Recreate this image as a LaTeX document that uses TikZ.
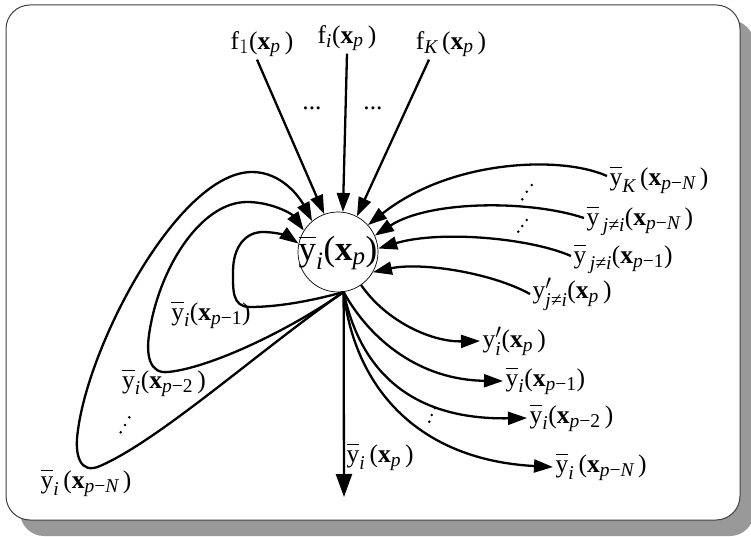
\documentclass[tikz,border=0pt]{standalone}
\usepackage{amsmath}
\usepackage{fontspec}
\setmainfont{Liberation Serif}
\usetikzlibrary{arrows.meta}
\DeclareMathSizes{25.5}{25.5}{19.5}{14}
\DeclareMathSizes{35}{35}{25}{18}
\newcommand{\yb}{\overline{\vphantom{\text{t}}\text{y}}}
\newcommand{\yq}{\text{y}'}
\newcommand{\tit}[1]{\text{\itshape #1}}
\newcommand{\xb}[1]{\text{\bfseries x}_{#1}}
\newcommand{\Lp}{\text{(}}
\newcommand{\Rp}{\text{)}}
\begin{document}
\begin{tikzpicture}[x=1pt,y=-1pt,
  lab/.style={font=\fontsize{25.5}{30}\selectfont, inner sep=2.5pt},
  arr/.style={line width=2.3pt, -{Triangle[length=19pt,width=13pt]}},
  bigarr/.style={line width=2.3pt, -{Triangle[length=23pt,width=16pt]}},
  dotc/.style={fill=black}]
\clip (0,0) rectangle (751,537);
\useasboundingbox (0,0) rectangle (751,537);
% shadow and frame
\fill[gray!80, rounded corners=24pt] (20,20) rectangle (754,536);
\filldraw[fill=white, draw=black!75, line width=1pt, rounded corners=24pt] (6,5) rectangle (740,520);

% central node
\node[circle, draw, line width=0.7pt, fill=white, minimum size=80pt, inner sep=0pt] (c) at (338,252) {};
\node[font=\fontsize{35}{40}\selectfont, inner sep=0pt] (ct) at (338,253) {$\yb_{\tit{i}}\Lp\xb{\tit{p}}\Rp$};

% labels
\node[lab] (f1) at (262,44) {$\text{f}_{1}\Lp\xb{\tit{p}}\,\Rp$};
\node[lab] (fi) at (347,38) {$\text{f}_{\tit{i}}\Lp\xb{\tit{p}}\,\Rp$};
\node[lab] (fK) at (451,44) {$\text{f}_{\tit{K}}\,\Lp\xb{\tit{p}}\,\Rp$};
\node[lab] (h1) at (312,108) {...};
\node[lab] (h2) at (373,108) {...};

\node[lab, anchor=west] (yK) at (607,180) {$\yb_{\tit{K}}\,\Lp\xb{\tit{p}\text{−}\tit{N}}\,\Rp$};
\node[lab, anchor=west] (yjN) at (584,221) {$\yb_{\,\tit{j≠i}}\Lp\xb{\tit{p}\text{−}\tit{N}}\,\Rp$};
\node[lab, anchor=west] (yj1) at (571,259) {$\yb_{\,\tit{j≠i}}\Lp\xb{\tit{p}\text{−1}}\Rp$};
\node[lab, anchor=west] (ypj) at (530,294) {$\yq_{\tit{j≠i}}\Lp\xb{\tit{p}}\,\Rp$};

\node[lab, anchor=west] (ypi) at (480,341) {$\yq_{\tit{i}}\Lp\xb{\tit{p}}\,\Rp$};
\node[lab, anchor=west] (yo1) at (503,381) {$\yb_{\tit{i}}\Lp\xb{\tit{p}\text{−1}}\Rp$};
\node[lab, anchor=west] (yo2) at (527,418) {$\yb_{\tit{i}}\Lp\xb{\tit{p}\text{−2}}\,\Rp$};
\node[lab, anchor=west] (yoN) at (553,467) {$\yb_{\tit{i}}\,\Lp\xb{\tit{p}\text{−}\tit{N}}\,\Rp$};
\node[lab, anchor=west] (ydn) at (344,457) {$\yb_{\tit{i}}\,\Lp\xb{\tit{p}}\,\Rp$};

\node[lab] (yl1) at (211,315) {$\yb_{\tit{i}}\Lp\xb{\tit{p}\text{−1}}\Rp$};
\node[lab] (yl2) at (164,383) {$\yb_{\tit{i}}\Lp\xb{\tit{p}\text{−2}}\,\Rp$};
\node[lab] (ylN) at (86,483) {$\yb_{\tit{i}}\,\Lp\xb{\tit{p}\text{−}\tit{N}}\,\Rp$};

% top straight arrows
\draw[arr] ([xshift=-5pt]f1.south) -- (c.110);
\draw[arr] (fi.south) -- (c.83);
\draw[arr] ([xshift=-22pt]fK.south) -- (c.62);

% loops on the left
\draw[arr] (c.-82) .. controls (260,350) and (160,440) .. (100,466)
  .. controls (80,475) and (74,455) .. (78,430)
  .. controls (90,340) and (180,172) .. (252,172)
  .. controls (282,172) and (300,198) .. (c.130);
\draw[arr] (c.-82) .. controls (290,330) and (210,368) .. (168,372)
  .. controls (150,374) and (146,356) .. (149,335)
  .. controls (158,270) and (200,202) .. (247,202)
  .. controls (272,202) and (292,214) .. (c.148);
\draw[arr] (c.-82) .. controls (315,300) and (280,307) .. (250,307)
  .. controls (232,307) and (233,290) .. (233,272)
  .. controls (233,246) and (246,232) .. (263,232)
  .. controls (278,232) and (289,237) .. (c.168);

% right incoming
\draw[arr] ([yshift=4pt]yK.west) .. controls (560,155) and (450,160) .. (c.42);
\draw[arr] ([yshift=3pt]yjN.west) .. controls (530,200) and (430,200) .. (c.24);
\draw[arr] ([yshift=3pt]yj1.west) .. controls (530,238) and (440,230) .. (c.5);
\draw[arr] (ypj.west) .. controls (490,272) and (420,262) .. (c.-30);

% outgoing
\draw[arr] (c.-55) .. controls (385,320) and (430,342) .. (ypi.west);
\draw[arr] (c.-82) .. controls (370,340) and (420,380) .. (yo1.west);
\draw[arr] (c.-82) .. controls (360,370) and (410,420) .. (yo2.west);
\draw[arr] (c.-82) .. controls (355,390) and (420,460) .. (yoN.west);
\coordinate (dn) at (344,497);
\draw[bigarr] (c.-82) -- (dn);

% dots
\foreach \p in {(531.7,185),(526.7,191.7),(522.3,199.3),
                (526.7,220),(522.3,226),(518.3,231.7),
                (435,408.3),(431.7,415),(429.3,421.7),
                (129.3,417.3),(125,425),(120.7,432.3)}
  \fill[dotc] \p circle (1.4pt);
\end{tikzpicture}
\end{document}
